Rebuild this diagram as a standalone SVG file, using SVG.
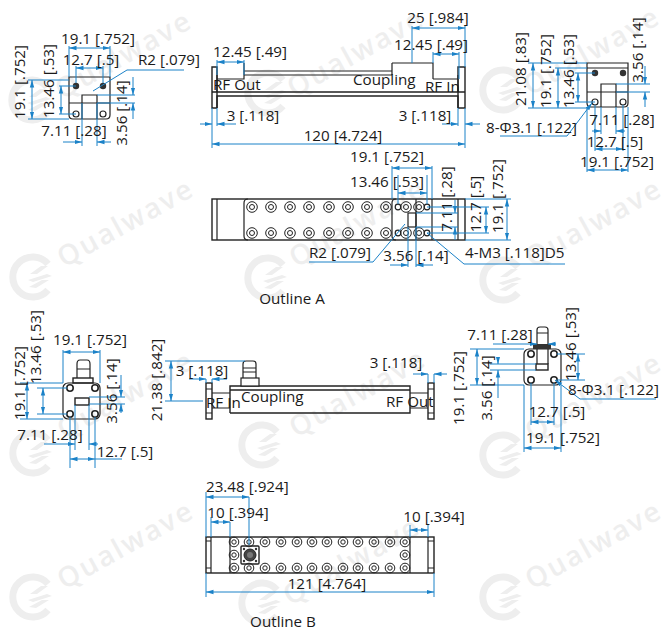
<svg xmlns="http://www.w3.org/2000/svg" width="667" height="631" viewBox="0 0 667 631">
<style>
text{font-family:"Open Sans","Noto Sans","DejaVu Sans",sans-serif}
.t{font-size:15.2px;fill:#1a1a1a}
.m{text-anchor:middle}
.w{font-size:28px;font-weight:600;fill:#eeeeee;letter-spacing:2.2px}
.s{fill:none;stroke:#222;stroke-width:1.2}
.b{fill:#fff;stroke:#222;stroke-width:1.2}
.k{fill:none;stroke:#222;stroke-width:1.4}
.h{fill:none;stroke:#222;stroke-width:1.6}
.f{fill:#333}
.l{fill:none;stroke:#1b82c8;stroke-width:1}
.dd{fill:none;stroke:#1b82c8;stroke-width:1;marker-start:url(#a);marker-end:url(#a)}
.de{fill:none;stroke:#1b82c8;stroke-width:1;marker-end:url(#a)}
</style>
<defs>
<marker id="a" markerUnits="userSpaceOnUse" markerWidth="8" markerHeight="6" refX="7.5" refY="3" orient="auto-start-reverse"><path d="M0 .8L7.5 3L0 5.2z" fill="#1b82c8"/></marker>
<g id="logo"><path d="M15 -13A20 20 0 1 0 15 13" fill="none" stroke="#eeeeee" stroke-width="7"/><path d="M-3 -3L8 -11L15 -11L4 -3zM-5 3L14 -3L19 -1L0 5zM-4 10L9 3L16 3L3 11z" fill="#eeeeee"/></g>
<g id="sc"><circle r="5.3" fill="none" stroke="#222" stroke-width="1"/><circle r="2.5" fill="none" stroke="#222" stroke-width="1"/></g>
<g id="sb"><circle r="4.8" fill="none" stroke="#222" stroke-width="1"/><circle r="2.2" fill="none" stroke="#222" stroke-width="1"/></g>
</defs>
<rect width="667" height="631" fill="#fff"/>
<g id="watermark">
<use href="#logo" x="32" y="100"/><text class="w" transform="translate(62 100) rotate(-29)">Qualwave</text>
<use href="#logo" x="268" y="93"/><text class="w" transform="translate(294 98) rotate(-29)">Qualwave</text>
<use href="#logo" x="503" y="90"/><text class="w" transform="translate(530 96) rotate(-29)">Qualwave</text>
<use href="#logo" x="33" y="277"/><text class="w" transform="translate(64 268) rotate(-29)">Qualwave</text>
<use href="#logo" x="268" y="278"/><text class="w" transform="translate(296 268) rotate(-29)">Qualwave</text>
<use href="#logo" x="503" y="280"/><text class="w" transform="translate(532 268) rotate(-29)">Qualwave</text>
<use href="#logo" x="33" y="453"/><text class="w" transform="translate(64 440) rotate(-29)">Qualwave</text>
<use href="#logo" x="262" y="445"/><text class="w" transform="translate(296 438) rotate(-29)">Qualwave</text>
<use href="#logo" x="503" y="455"/><text class="w" transform="translate(532 442) rotate(-29)">Qualwave</text>
<use href="#logo" x="33" y="597"/><text class="w" transform="translate(64 590) rotate(-29)">Qualwave</text>
<use href="#logo" x="262" y="603"/><text class="w" transform="translate(290 606) rotate(-29)">Qualwave</text>
<use href="#logo" x="503" y="597"/><text class="w" transform="translate(532 590) rotate(-29)">Qualwave</text>
</g>

<g id="outline-a-end-left">
<path class="s" d="M69 77H110V115Q110 119 106 119H73Q69 119 69 115Z"/>
<path class="s" d="M69 103H110M82 103V95H97V103M82 103V119M97 103V119"/>
<circle class="f" cx="76" cy="86" r="3.2"/><circle class="f" cx="103" cy="86" r="3.2"/>
<circle class="s" cx="76" cy="114" r="3"/><circle class="s" cx="103" cy="114" r="3"/>
</g>
<g id="outline-a-side">
<path class="k" d="M217 108V67H212V108H217M458 108V67H465V108H458"/>
<path class="k" d="M212 92H465M217 108V96H458V108"/>
<path class="s" d="M244 71H392M244 75H392M217 79H244V63M433 79H458M392 63H433V79M392 63V75M217 75V92M458 75V92"/>
<text class="t" x="213" y="90">RF Out</text>
<text class="t" x="353" y="85">Coupling</text>
<text class="t" x="425" y="92">RF In</text>
</g>
<g id="outline-a-end-right">
<path class="s" d="M587 63H628V103Q628 107 624 107H591Q587 107 587 103Z"/>
<path class="s" d="M587 68H628M587 92H628M601 92V84H616V92M601 92V107M616 92V107"/>
<circle class="f" cx="595" cy="73" r="3.2"/><circle class="f" cx="623" cy="73" r="3.2"/>
<circle class="s" cx="595" cy="102" r="3"/><circle class="s" cx="623" cy="102" r="3"/>
</g>
<g id="outline-a-plan">
<rect class="k" x="212" y="199" width="253" height="41"/>
<path class="s" d="M217 199V240M458 199V240M432 199V240M416 199V240M248 199Q244 199 244 203V236Q244 240 248 240M396 199Q392 199 392 203V236Q392 240 396 240"/>
<rect class="s" x="408" y="213" width="8" height="14"/>
<use href="#sc" x="252" y="207"/><use href="#sc" x="271" y="207"/><use href="#sc" x="290" y="207"/><use href="#sc" x="309" y="207"/><use href="#sc" x="329" y="207"/><use href="#sc" x="348" y="207"/><use href="#sc" x="367" y="207"/><use href="#sc" x="386" y="207"/><use href="#sc" x="406" y="207"/><use href="#sc" x="419" y="207"/>
<use href="#sc" x="252" y="233"/><use href="#sc" x="271" y="233"/><use href="#sc" x="290" y="233"/><use href="#sc" x="309" y="233"/><use href="#sc" x="329" y="233"/><use href="#sc" x="348" y="233"/><use href="#sc" x="367" y="233"/><use href="#sc" x="386" y="233"/><use href="#sc" x="406" y="233"/><use href="#sc" x="419" y="233"/>
<circle class="s" cx="398" cy="207" r="2.8"/><circle class="s" cx="427" cy="207" r="2.8"/><circle class="s" cx="398" cy="233" r="2.8"/><circle class="s" cx="427" cy="233" r="2.8"/>
</g>
<g id="outline-b-end-left">
<rect class="s" x="63" y="383" width="37" height="36" rx="5"/>
<rect class="k" x="75" y="398" width="14" height="7"/>
<path class="s" d="M77 378V364Q77 360 80 360H87Q90 360 90 364V378M77 369H90"/>
<rect class="k" x="73" y="378" width="20" height="5"/>
<circle class="h" cx="70" cy="388" r="3.2"/><circle class="h" cx="95" cy="388" r="3.2"/><circle class="h" cx="70" cy="414" r="3.2"/><circle class="h" cx="95" cy="414" r="3.2"/>
</g>
<g id="outline-b-side">
<rect class="k" x="206" y="383" width="6" height="36"/>
<rect class="k" x="428" y="383" width="6" height="36"/>
<path class="s" d="M206 389H212M206 413H212M428 389H434M428 413H434"/>
<path class="k" d="M230 413V386H410V413H230M230 390H410"/>
<path class="s" d="M212 393H230M212 408H230M410 393H428M410 408H428"/>
<path class="s" d="M243 378V364Q243 361 246 361H253Q256 361 256 364V378M243 368H256M243 372H256"/>
<rect class="b" x="241" y="378" width="18" height="8"/>
<text class="t" x="206" y="408">RF In</text>
<text class="t" x="241" y="402">Coupling</text>
<text class="t" x="386" y="407">RF Out</text>
</g>
<g id="outline-b-end-right">
<rect class="s" x="524" y="349" width="37" height="36" rx="5"/>
<rect class="k" x="536" y="364" width="12" height="6"/>
<path class="s" d="M537 349V364M548 349V364M537 344V330Q537 327 540 327H545Q548 327 548 330V344M537 333H548"/>
<rect class="f" x="533" y="344" width="18" height="5"/>
<circle class="h" cx="531" cy="354" r="3.2"/><circle class="h" cx="554" cy="354" r="3.2"/><circle class="h" cx="531" cy="380" r="3.2"/><circle class="h" cx="554" cy="380" r="3.2"/>
</g>
<g id="outline-b-plan">
<rect class="k" x="206" y="537" width="228" height="36"/>
<path class="s" d="M211 537V573M428 537V573M230 537V573M410 537V573M206 541H211M206 568H211M428 541H434M428 568H434"/>
<rect class="k" x="241" y="546" width="18" height="18" rx="1"/>
<circle cx="250" cy="555" r="6" fill="#444" stroke="#222"/><circle cx="250" cy="555" r="3" fill="#777"/>
<circle class="f" cx="244" cy="549" r="1.200"/><circle class="f" cx="256" cy="549" r="1.200"/><circle class="f" cx="244" cy="561" r="1.200"/><circle class="f" cx="256" cy="561" r="1.200"/>
<use href="#sb" x="234" y="542"/><use href="#sb" x="249" y="542"/><use href="#sb" x="265" y="542"/><use href="#sb" x="281" y="542"/><use href="#sb" x="297" y="542"/><use href="#sb" x="312" y="542"/><use href="#sb" x="327" y="542"/><use href="#sb" x="343" y="542"/><use href="#sb" x="358" y="542"/><use href="#sb" x="374" y="542"/><use href="#sb" x="390" y="542"/><use href="#sb" x="405" y="542"/>
<use href="#sb" x="234" y="568"/><use href="#sb" x="249" y="568"/><use href="#sb" x="265" y="568"/><use href="#sb" x="281" y="568"/><use href="#sb" x="297" y="568"/><use href="#sb" x="312" y="568"/><use href="#sb" x="327" y="568"/><use href="#sb" x="343" y="568"/><use href="#sb" x="358" y="568"/><use href="#sb" x="374" y="568"/><use href="#sb" x="390" y="568"/><use href="#sb" x="405" y="568"/>
<use href="#sb" x="234" y="555"/><use href="#sb" x="405" y="555"/>
</g>

<g id="connectors">
<path class="l" d="M69 77V46M110 77V46M76 83V66M103 83V66M28 80H69M28 119H69M59 86H76M59 114H76M97 95H135M97 103H135M82 103V146M97 103V146"/>
<path class="dd" d="M69 48H110"/><path class="dd" d="M76 68H103"/><path class="dd" d="M32 80V119"/><path class="dd" d="M61 86V114"/>
<path class="de" d="M133 77V95"/><path class="de" d="M133 119V103"/><path class="de" d="M63 142H82"/><path class="de" d="M111 142H97"/>
<path class="l" d="M184 70H127L93 91"/>
<path class="l" d="M217 60V75M244 60V75M433 52V63M459 52V79M412 26V63M465 26V67M212 108V148M465 108V148M217 108V126M458 108V126"/>
<path class="dd" d="M217 62H244"/><path class="dd" d="M433 54H459"/><path class="dd" d="M412 28H465"/><path class="dd" d="M212 144H465"/>
<path class="de" d="M200 124H212"/><path class="de" d="M236 124H217"/><path class="de" d="M442 124H458"/><path class="de" d="M480 124H465"/>
<path class="l" d="M528 63H587M528 108H587M555 68H587M575 73H595M575 102H595M616 84H650M616 92H650M601 107V134M616 107V134M595 105V151M623 105V151M587 107V172M628 107V172"/>
<path class="dd" d="M533 63V108"/><path class="dd" d="M558 68V108"/><path class="dd" d="M578 73V102"/>
<path class="de" d="M645 66V84"/><path class="de" d="M645 107V92"/><path class="de" d="M592 131H601"/><path class="de" d="M625 131H616"/>
<path class="dd" d="M595 149H623"/><path class="dd" d="M587 170H628"/>
<path class="de" d="M500 136H567L592 103"/>
<path class="l" d="M392 166V199M432 166V199M398 175V204M427 175V204M416 213H458M416 227H458M427 207H489M427 233H489M465 199H511M465 240H511M408 227V267M416 227V267"/>
<path class="dd" d="M392 168H432"/><path class="dd" d="M398 193H427"/>
<path class="de" d="M455 200V213"/><path class="de" d="M455 240V227"/><path class="dd" d="M486 207V233"/><path class="dd" d="M507 199V240"/>
<path class="de" d="M390 265H408"/><path class="de" d="M433 265H416"/>
<path class="l" d="M309 262H373L405 224M565 264H464L427 233"/>
<path class="l" d="M63 383V350M100 383V350M20 383H63M20 419H63M37 388H67M37 414H67M89 397H125M89 404H125M75 405V450M89 405V450M70 417V468M95 417V468"/>
<path class="dd" d="M63 352H100"/><path class="dd" d="M27 383V419"/><path class="dd" d="M43 388V414"/>
<path class="de" d="M121 375V397"/><path class="de" d="M121 413V404"/><path class="de" d="M44 444H75"/><path class="de" d="M98 444H89"/>
<path class="dd" d="M70 459H95"/><path class="l" d="M95 459H122"/>
<path class="l" d="M165 361H245M165 401H203M206 379V383M212 379V383M428 374V383M434 374V383"/>
<path class="dd" d="M171 361V401"/>
<path class="de" d="M189 379H206"/><path class="de" d="M227 379H212"/><path class="de" d="M413 374H428"/><path class="de" d="M447 374H434"/>
<path class="l" d="M470 349H524M470 385H524M557 354H585M557 380H585M490 364H536M490 370H536M531 383V425M554 383V425M524 385V452M561 385V452"/>
<path class="dd" d="M477 349V385"/><path class="dd" d="M578 354V380"/>
<path class="de" d="M493 344H537"/><path class="de" d="M556 344H548"/>
<path class="de" d="M498 357V364"/><path class="de" d="M498 398V370"/>
<path class="dd" d="M531 422H554"/><path class="dd" d="M524 448H561"/>
<path class="de" d="M656 399H580L555 380"/>
<path class="l" d="M206 492V537M249 497V545M211 517V537M230 522V537M410 525V537M428 525V537M206 573V597M434 573V597"/>
<path class="dd" d="M206 497H249"/><path class="dd" d="M211 522H230"/><path class="dd" d="M410 530H428"/><path class="dd" d="M206 592H434"/>
</g>

<g id="labels">
<text class="t m" x="98" y="44">19.1 [.752]</text>
<text class="t m" x="91" y="65">12.7 [.5]</text>
<text class="t" x="138" y="65">R2 [.079]</text>
<text class="t m" transform="translate(25 82) rotate(-90)">19.1 [.752]</text>
<text class="t m" transform="translate(54 81) rotate(-90)">13.46 [.53]</text>
<text class="t m" transform="translate(127 113) rotate(-90)">3.56 [.14]</text>
<text class="t m" x="74" y="136">7.11 [.28]</text>
<text class="t m" x="250" y="57">12.45 [.49]</text>
<text class="t m" x="431" y="50">12.45 [.49]</text>
<text class="t m" x="438" y="23">25 [.984]</text>
<text class="t m" x="253" y="121">3 [.118]</text>
<text class="t m" x="425" y="121">3 [.118]</text>
<text class="t m" x="343" y="141">120 [4.724]</text>
<text class="t m" transform="translate(526 69) rotate(-90)">21.08 [.83]</text>
<text class="t m" transform="translate(551 71) rotate(-90)">19.1 [.752]</text>
<text class="t m" transform="translate(574 71) rotate(-90)">13.46 [.53]</text>
<text class="t m" transform="translate(643 50) rotate(-90)">3.56 [.14]</text>
<text class="t m" x="622" y="125">7.11 [.28]</text>
<text class="t m" x="615" y="147">12.7 [.5]</text>
<text class="t m" x="617" y="167">19.1 [.752]</text>
<text class="t" x="486" y="133">8-Φ3.1 [.122]</text>
<text class="t m" x="387" y="162">19.1 [.752]</text>
<text class="t m" x="387" y="187">13.46 [.53]</text>
<text class="t m" transform="translate(452 199) rotate(-90)">7.11 [.28]</text>
<text class="t m" transform="translate(481 204) rotate(-90)">12.7 [.5]</text>
<text class="t m" transform="translate(503 196) rotate(-90)">19.1 [.752]</text>
<text class="t" x="309" y="258">R2 [.079]</text>
<text class="t m" x="416" y="261">3.56 [.14]</text>
<text class="t" x="465" y="258">4-M3 [.118]D5</text>
<text class="t m" x="292" y="304">Outline A</text>
<text class="t m" x="90" y="345">19.1 [.752]</text>
<text class="t m" transform="translate(25 383) rotate(-90)">19.1 [.752]</text>
<text class="t m" transform="translate(41 347) rotate(-90)">13.46 [.53]</text>
<text class="t m" transform="translate(117 391) rotate(-90)">3.56 [.14]</text>
<text class="t m" x="50" y="440">7.11 [.28]</text>
<text class="t m" x="125" y="457">12.7 [.5]</text>
<text class="t m" transform="translate(162 380) rotate(-90)">21.38 [.842]</text>
<text class="t m" x="202" y="376">3 [.118]</text>
<text class="t m" x="396" y="368">3 [.118]</text>
<text class="t m" x="500" y="340">7.11 [.28]</text>
<text class="t m" transform="translate(576 344) rotate(-90)">13.46 [.53]</text>
<text class="t m" transform="translate(464 388) rotate(-90)">19.1 [.752]</text>
<text class="t m" transform="translate(492 388) rotate(-90)">3.56 [.14]</text>
<text class="t m" x="557" y="417">12.7 [.5]</text>
<text class="t m" x="563" y="443">19.1 [.752]</text>
<text class="t" x="568" y="395">8-Φ3.1 [.122]</text>
<text class="t" x="206" y="492">23.48 [.924]</text>
<text class="t m" x="238" y="518">10 [.394]</text>
<text class="t m" x="434" y="522">10 [.394]</text>
<text class="t m" x="327" y="589">121 [4.764]</text>
<text class="t m" x="283" y="627">Outline B</text>
</g>
</svg>
